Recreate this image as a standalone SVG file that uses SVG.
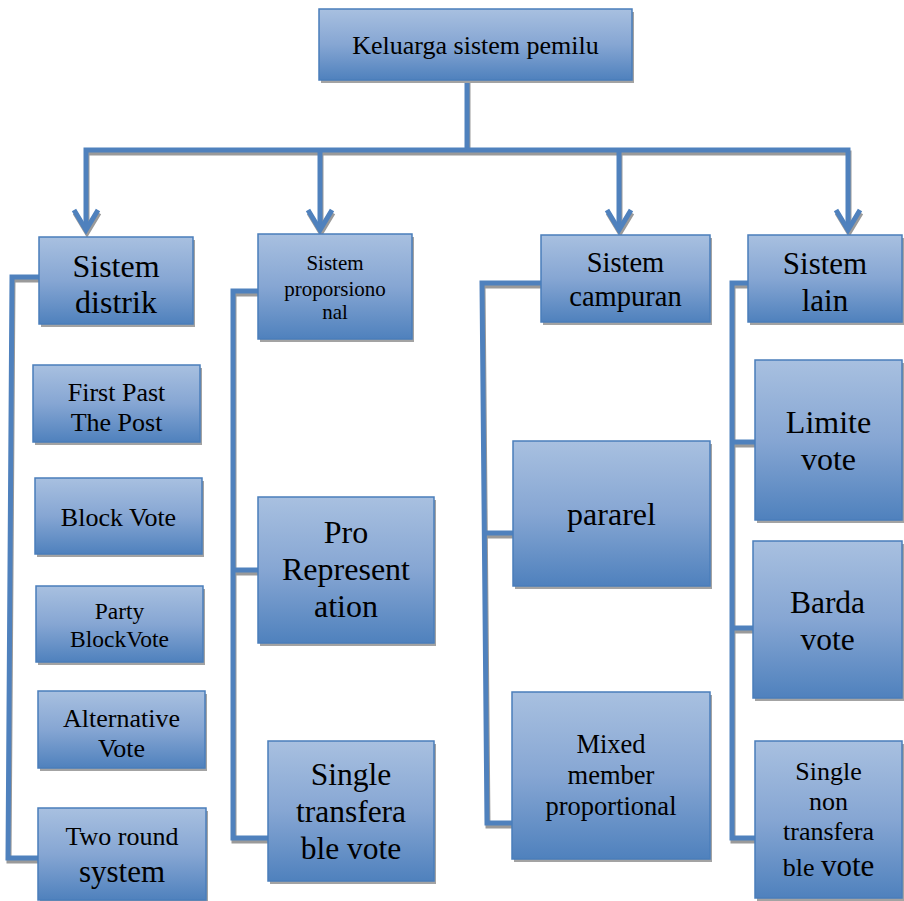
<svg xmlns="http://www.w3.org/2000/svg" width="904" height="901" viewBox="0 0 904 901">
<defs>
<linearGradient id="g" x1="0" y1="0" x2="0" y2="1">
<stop offset="0" stop-color="#a8c0e0"/>
<stop offset="0.5" stop-color="#86a6d3"/>
<stop offset="1" stop-color="#4f81bd"/>
</linearGradient>
<marker id="arr" viewBox="-26 -16 30 32" markerWidth="30" markerHeight="32" refX="0" refY="0" orient="auto" markerUnits="userSpaceOnUse" overflow="visible">
<path d="M-20,-12 L0,0 L-20,12" fill="none" stroke="#4f81bd" stroke-width="5" stroke-linejoin="miter"/>
</marker>
<marker id="arrs" viewBox="-26 -16 30 32" markerWidth="30" markerHeight="32" refX="0" refY="0" orient="auto" markerUnits="userSpaceOnUse" overflow="visible">
<path d="M-20,-12 L0,0 L-20,12" fill="none" stroke="#9a9a9a" stroke-width="5"/>
</marker>
</defs>
<style>
.box{fill:url(#g);stroke:#4a7ebb;stroke-width:1.5}
.sh{fill:#a3a3a3}
.t{font-family:"Liberation Serif","Times New Roman",serif;fill:#000;text-anchor:middle}
.c{fill:none;stroke:#4f81bd;stroke-width:5;stroke-linejoin:miter}
.cs{fill:none;stroke:#9a9a9a;stroke-width:5}
</style>
<rect width="904" height="901" fill="#fff"/>

<g id="connectors">
<g transform="translate(1,3)">
<path class="cs" d="M467,80 V150"/>
<path class="cs" d="M467,150 H86 V230" marker-end="url(#arrs)"/>
<path class="cs" d="M467,150 H848 V230" marker-end="url(#arrs)"/>
<path class="cs" d="M320,150 V230" marker-end="url(#arrs)"/>
<path class="cs" d="M619,150 V230" marker-end="url(#arrs)"/>
<path class="cs" d="M39,277 H12 L8,858 H38"/>
<path class="cs" d="M258,291 H233 V838 H268 M233,570 H258"/>
<path class="cs" d="M541,283 H482 L487,823 H512 M484,533 H513"/>
<path class="cs" d="M748,283 H732 V838 H755 M732,442 H755 M732,628 H753"/>
</g>
<path class="c" d="M467,80 V150"/>
<path class="c" d="M467,150 H86 V230" marker-end="url(#arr)"/>
<path class="c" d="M467,150 H848 V230" marker-end="url(#arr)"/>
<path class="c" d="M320,150 V230" marker-end="url(#arr)"/>
<path class="c" d="M619,150 V230" marker-end="url(#arr)"/>
<path class="c" d="M39,277 H12 L8,858 H38"/>
<path class="c" d="M258,291 H233 V838 H268 M233,570 H258"/>
<path class="c" d="M541,283 H482 L487,823 H512 M484,533 H513"/>
<path class="c" d="M748,283 H732 V838 H755 M732,442 H755 M732,628 H753"/>
</g>

<g id="root">
<rect class="sh" x="321" y="12" width="313" height="71"/>
<rect class="box" x="319" y="9" width="313" height="71"/>
<text class="t" x="475.5" y="54" font-size="26">Keluarga sistem pemilu</text>
</g>

<g id="distrik">
<rect class="sh" x="41" y="240" width="154" height="87"/>
<rect class="box" x="39" y="237" width="154" height="87"/>
<text class="t" x="116" y="277" font-size="32">Sistem</text>
<text class="t" x="116" y="313" font-size="32">distrik</text>
</g>

<g id="proporsional">
<rect class="sh" x="260" y="237" width="154" height="105"/>
<rect class="box" x="258" y="234" width="154" height="105"/>
<text class="t" x="335" y="270" font-size="21">Sistem</text>
<text class="t" x="335" y="296" font-size="21">proporsiono</text>
<text class="t" x="335" y="319" font-size="21">nal</text>
</g>

<g id="campuran">
<rect class="sh" x="543" y="238" width="169" height="87"/>
<rect class="box" x="541" y="235" width="169" height="87"/>
<text class="t" x="625.5" y="272" font-size="28.5">Sistem</text>
<text class="t" x="625.5" y="306" font-size="28.5">campuran</text>
</g>

<g id="lain">
<rect class="sh" x="750" y="238" width="154" height="87"/>
<rect class="box" x="748" y="235" width="154" height="87"/>
<text class="t" x="825" y="274" font-size="31">Sistem</text>
<text class="t" x="825" y="311" font-size="31">lain</text>
</g>

<g id="fptp">
<rect class="sh" x="35" y="368" width="167" height="77"/>
<rect class="box" x="33" y="365" width="167" height="77"/>
<text class="t" x="116.5" y="401" font-size="26">First Past</text>
<text class="t" x="116.5" y="431" font-size="26">The Post</text>
</g>

<g id="blockvote">
<rect class="sh" x="37" y="481" width="167" height="76"/>
<rect class="box" x="35" y="478" width="167" height="76"/>
<text class="t" x="118.5" y="526" font-size="26">Block Vote</text>
</g>

<g id="partyblockvote">
<rect class="sh" x="38" y="589" width="167" height="76"/>
<rect class="box" x="36" y="586" width="167" height="76"/>
<text class="t" x="119.5" y="619" font-size="23.5">Party</text>
<text class="t" x="119.5" y="647" font-size="23.5">BlockVote</text>
</g>

<g id="alternative">
<rect class="sh" x="40" y="694" width="167" height="77"/>
<rect class="box" x="38" y="691" width="167" height="77"/>
<text class="t" x="121.5" y="727" font-size="26">Alternative</text>
<text class="t" x="121.5" y="757" font-size="26">Vote</text>
</g>

<g id="tworound">
<rect class="sh" x="40" y="811" width="168" height="92"/>
<rect class="box" x="38" y="808" width="168" height="92"/>
<text class="t" x="122" y="845" font-size="26">Two round</text>
<text class="t" x="122" y="882" font-size="31">system</text>
</g>

<g id="prorep">
<rect class="sh" x="260" y="500" width="176" height="146"/>
<rect class="box" x="258" y="497" width="176" height="146"/>
<text class="t" x="346" y="543" font-size="32">Pro</text>
<text class="t" x="346" y="580" font-size="32">Represent</text>
<text class="t" x="346" y="617" font-size="32">ation</text>
</g>

<g id="stv">
<rect class="sh" x="270" y="744" width="166" height="140"/>
<rect class="box" x="268" y="741" width="166" height="140"/>
<text class="t" x="351" y="785" font-size="31.5">Single</text>
<text class="t" x="351" y="822" font-size="31.5">transfera</text>
<text class="t" x="351" y="859" font-size="31.5">ble vote</text>
</g>

<g id="pararel">
<rect class="sh" x="515" y="444" width="197" height="145"/>
<rect class="box" x="513" y="441" width="197" height="145"/>
<text class="t" x="611.5" y="525" font-size="32">pararel</text>
</g>

<g id="mmp">
<rect class="sh" x="514" y="695" width="198" height="167"/>
<rect class="box" x="512" y="692" width="198" height="167"/>
<text class="t" x="611" y="753" font-size="26.5">Mixed</text>
<text class="t" x="611" y="784" font-size="26.5">member</text>
<text class="t" x="611" y="815" font-size="26.5">proportional</text>
</g>

<g id="limite">
<rect class="sh" x="757" y="363" width="147" height="160"/>
<rect class="box" x="755" y="360" width="147" height="160"/>
<text class="t" x="828.5" y="433" font-size="32">Limite</text>
<text class="t" x="828.5" y="470" font-size="32">vote</text>
</g>

<g id="barda">
<rect class="sh" x="755" y="544" width="149" height="157"/>
<rect class="box" x="753" y="541" width="149" height="157"/>
<text class="t" x="827.5" y="613" font-size="31.5">Barda</text>
<text class="t" x="827.5" y="650" font-size="31.5">vote</text>
</g>

<g id="sntv">
<rect class="sh" x="757" y="744" width="147" height="157"/>
<rect class="box" x="755" y="741" width="147" height="157"/>
<text class="t" x="828.5" y="780" font-size="26">Single</text>
<text class="t" x="828.5" y="810" font-size="26">non</text>
<text class="t" x="828.5" y="840" font-size="26">transfera</text>
<text class="t" x="828.5" y="876" font-size="26">ble <tspan font-size="31">vote</tspan></text>
</g>
</svg>
